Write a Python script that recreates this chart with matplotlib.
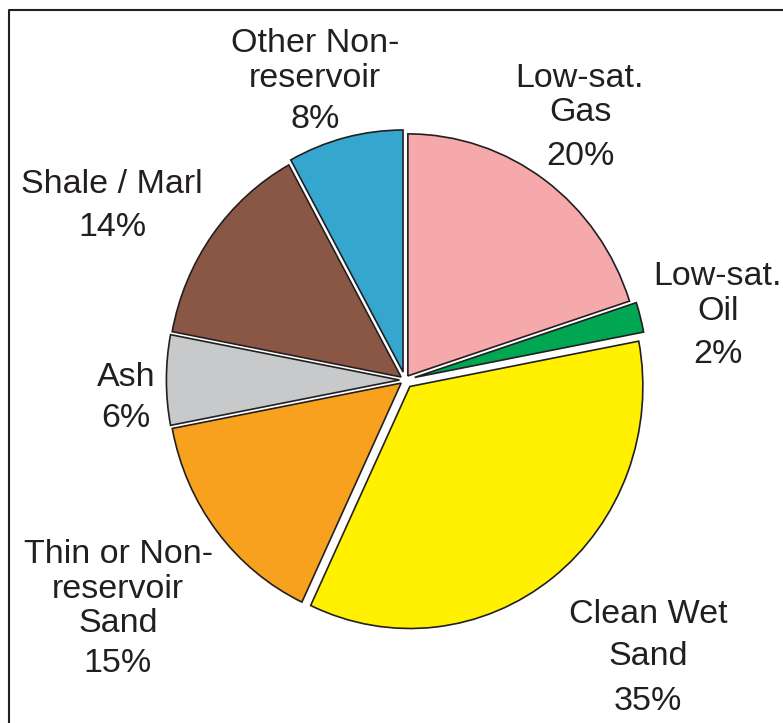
import matplotlib.pyplot as plt

plt.rcParams['font.family'] = ['Liberation Sans', 'DejaVu Sans']

# reservoir facies breakdown, clockwise from 12 o'clock
names = ['Low-sat.\nGas', 'Low-sat.\nOil', 'Clean Wet\nSand',
         'Thin or Non-\nreservoir\nSand', 'Ash', 'Shale / Marl',
         'Other Non-\nreservoir']
shares = [20, 2, 35, 15, 6, 14, 8]
colors = ['#F5A9AB', '#00A651', '#FFF100', '#F7A11F', '#C8C9CA', '#8B5745', '#35A6CD']
explode = [0.021, 0.043, 0.034, 0.021, 0.024, 0.021, 0.034]

# label placement in pixels: centre x, baselines of each name line, baseline of the % line
label_x = [580, 718, 648, 118, 126, 112, 315]
name_base = [[87, 121], [285, 320], [623, 665], [563, 598, 632], [386], [193], [52, 87]]
pct_base = [165, 363, 710, 672, 427, 236, 128]

ink = '#231F20'
W, H = 783, 723
fig = plt.figure(figsize=(W / 100, H / 100), dpi=100)

ax = fig.add_axes([0, 0, 1, 1])
ax.set_xlim(0, W)
ax.set_ylim(H, 0)
ax.axis('off')

# frame (runs off the right and bottom edges)
ax.plot([9, 9, W + 5], [H + 5, 10, 10], color=ink, lw=1.5, solid_capstyle='butt')

# pie drawn in its own axes, slightly taller than wide
cx, cy, rx, ry = 405, 380, 233, 242
lim = 1.1
pax = fig.add_axes([(cx - rx * lim) / W, (H - cy - ry * lim) / H,
                    2 * rx * lim / W, 2 * ry * lim / H])
pax.pie(shares, colors=colors, explode=explode, startangle=90, counterclock=False,
        wedgeprops=dict(edgecolor=ink, linewidth=1.2))
pax.set_aspect('auto')
pax.set_xlim(-lim, lim)
pax.set_ylim(-lim, lim)
pax.axis('off')

for name, v, x, bases, pb in zip(names, shares, label_x, name_base, pct_base):
    for line, b in zip(name.split('\n'), bases):
        ax.text(x, b, line, ha='center', va='baseline', fontsize=24.5, color=ink)
    ax.text(x, pb, f'{v}%', ha='center', va='baseline', fontsize=24.5, color=ink)

fig.savefig('out.png', dpi=100)
